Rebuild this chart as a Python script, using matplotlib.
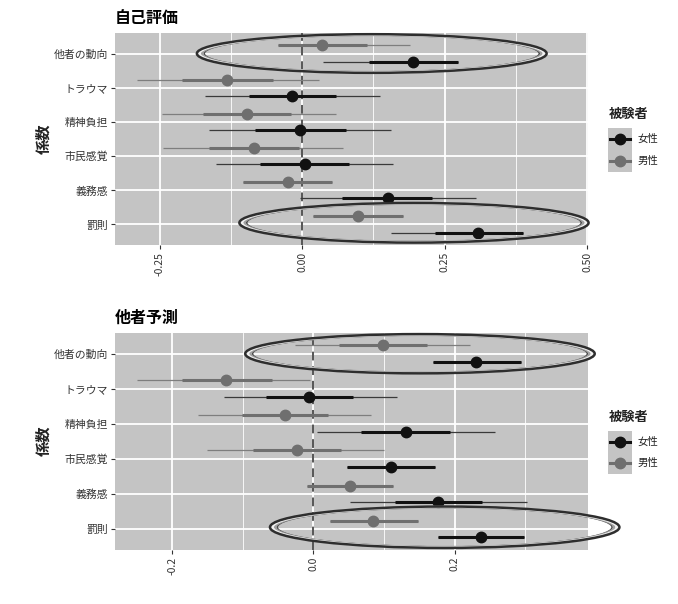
import matplotlib
matplotlib.use("Agg")
import matplotlib.pyplot as plt
from matplotlib.patches import Ellipse, Rectangle
from matplotlib.lines import Line2D

plt.rcParams['font.family'] = ['Noto Sans CJK JP', 'DejaVu Sans']

# categories, top to bottom
categories = ['他者の動向', 'トラウマ', '精神負担', '市民感覚', '義務感', '罰則']
groups = ['女性', '男性']

# 自己評価 panel
self_f_est = [0.194, -0.018, -0.004, 0.005, 0.150, 0.309]
self_f_in_lo = [0.117, -0.093, -0.083, -0.073, 0.070, 0.232]
self_f_in_hi = [0.273, 0.060, 0.076, 0.082, 0.228, 0.387]
self_f_out_lo = [0.037, -0.170, -0.163, -0.151, -0.004, 0.155]
self_f_out_hi = [0.273, 0.136, 0.155, 0.159, 0.305, 0.387]

self_m_est = [0.035, -0.131, -0.096, -0.085, -0.025, 0.098]
self_m_in_lo = [-0.043, -0.210, -0.173, -0.163, -0.103, 0.019]
self_m_in_hi = [0.113, -0.051, -0.019, -0.005, 0.053, 0.176]
self_m_out_lo = [-0.043, -0.290, -0.246, -0.243, -0.103, 0.019]
self_m_out_hi = [0.189, 0.030, 0.060, 0.072, 0.053, 0.176]

# 他者予測 panel
oth_f_est = [0.231, -0.006, 0.131, 0.110, 0.177, 0.237]
oth_f_in_lo = [0.170, -0.067, 0.068, 0.048, 0.115, 0.176]
oth_f_in_hi = [0.294, 0.056, 0.193, 0.172, 0.239, 0.298]
oth_f_out_lo = [0.170, -0.127, 0.005, 0.048, 0.052, 0.176]
oth_f_out_hi = [0.294, 0.118, 0.257, 0.172, 0.302, 0.298]

oth_m_est = [0.099, -0.124, -0.040, -0.023, 0.052, 0.085]
oth_m_in_lo = [0.037, -0.186, -0.101, -0.085, -0.009, 0.023]
oth_m_in_hi = [0.161, -0.059, 0.021, 0.039, 0.113, 0.148]
oth_m_out_lo = [-0.026, -0.250, -0.164, -0.151, -0.009, 0.023]
oth_m_out_hi = [0.222, -0.005, 0.081, 0.100, 0.113, 0.148]

self_ticks = [-0.25, 0.0, 0.25, 0.50]
self_ticklabels = ['-0.25', '0.00', '0.25', '0.50']
oth_ticks = [-0.2, 0.0, 0.2]
oth_ticklabels = ['-0.2', '0.0', '0.2']

W, H = 678, 604
PANEL_BG = '#c4c4c4'
COL_F = '#111111'
COL_M = '#6f6f6f'
THIN_F = '#3a3a3a'
THIN_M = '#7e7e7e'


def fx(px):
    return px / W


def fy(py):
    return 1 - py / H


def draw_series(ax, ypos, est, in_lo, in_hi, out_lo, out_hi, color, thin_color):
    for y, e, a, b, c, d in zip(ypos, est, in_lo, in_hi, out_lo, out_hi):
        ax.plot([c, d], [y, y], color=thin_color, lw=0.9, solid_capstyle='butt', zorder=3)
        ax.plot([a, b], [y, y], color=color, lw=2.2, solid_capstyle='butt', zorder=4)
        ax.plot([e], [y], 'o', color=color, ms=7.5, zorder=5)


def draw_ring(ax, cx, cy, w, h):
    # a dark ring with a lighter crescent at both tips
    layers = [(0.042, 0.95, '#4a4a4a', 1.1),
              (0.030, 0.962, '#a0a0a0', 1.8),
              (0.015, 0.98, '#f2f2f2', 1.8),
              (0.0, 1.0, '#2e2e2e', 1.8)]
    for dw, sh, col, lw in layers:
        e = Ellipse((cx, cy), w * (1 - dw), h * sh, fill=False,
                    edgecolor=col, lw=lw, zorder=6, clip_on=False)
        ax.add_patch(e)


def setup_panel(ax, xlim, ticks, ticklabels, minor):
    ypos = [6 - i for i in range(len(categories))]
    ax.set_facecolor(PANEL_BG)
    for s in ax.spines.values():
        s.set_visible(False)
    ax.set_xlim(*xlim)
    ax.set_ylim(0.4, 6.6)
    ax.set_xticks(ticks)
    ax.set_xticklabels(ticklabels, rotation=90, fontsize=7.5, color='#333333')
    ax.set_xticks(minor, minor=True)
    ax.tick_params(axis='x', which='minor', length=0)
    ax.set_yticks(ypos)
    ax.set_yticklabels(categories, fontsize=7.8, color='#333333')
    ax.tick_params(axis='both', which='major', length=3, width=0.8, color='#333333', pad=2)
    ax.grid(True, which='major', color='white', lw=1.3, zorder=0)
    ax.grid(True, which='minor', axis='x', color='white', lw=0.6, zorder=0)
    ax.set_axisbelow(True)
    ax.axvline(0, color='#555555', lw=1.4, dashes=(4.5, 3), zorder=2)
    return ypos


def draw_legend(fig, title_y, row_ys):
    fig.text(fx(609), fy(title_y), '被験者', fontsize=9.5, fontweight='bold',
             va='center', ha='left', color='#222222')
    fig.patches.append(Rectangle((fx(608), fy(row_ys[1] + 11)), fx(24), (row_ys[1] - row_ys[0] + 22) / H,
                                 transform=fig.transFigure, facecolor=PANEL_BG, edgecolor='none'))
    for g, col, y in zip(groups, [COL_F, COL_M], row_ys):
        fig.lines.append(Line2D([fx(610), fx(630)], [fy(y), fy(y)], color=col, lw=2.2,
                                transform=fig.transFigure))
        fig.lines.append(Line2D([fx(620)], [fy(y)], marker='o', ms=7.5, color=col,
                                transform=fig.transFigure))
        fig.text(fx(638), fy(y), g, fontsize=7.5, va='center', ha='left', color='#222222')


fig = plt.figure(figsize=(W / 100, H / 100), dpi=100)
fig.patch.set_facecolor('white')

# top panel: 自己評価
ax1 = fig.add_axes([fx(115), fy(245), fx(588) - fx(115), (245 - 33) / H])
ypos = setup_panel(ax1, (-0.328, 0.501), self_ticks, self_ticklabels, [-0.125, 0.125, 0.375])
draw_series(ax1, [y + 0.24 for y in ypos], self_m_est, self_m_in_lo, self_m_in_hi,
            self_m_out_lo, self_m_out_hi, COL_M, THIN_M)
draw_series(ax1, [y - 0.24 for y in ypos], self_f_est, self_f_in_lo, self_f_in_hi,
            self_f_out_lo, self_f_out_hi, COL_F, THIN_F)
draw_ring(ax1, 0.122, 6.0, 0.613, 1.13)
draw_ring(ax1, 0.196, 1.05, 0.612, 1.16)
fig.text(fx(115), fy(18), '自己評価', fontsize=11.5, fontweight='bold', va='center', ha='left')
fig.text(fx(43), fy(139), '係数', fontsize=11, fontweight='bold', rotation=90,
         va='center', ha='center', color='#222222')
draw_legend(fig, 114, [139, 161])

# bottom panel: 他者予測
ax2 = fig.add_axes([fx(115), fy(550), fx(588) - fx(115), (550 - 332.7) / H])
ypos = setup_panel(ax2, (-0.281, 0.389), oth_ticks, oth_ticklabels, [-0.1, 0.1, 0.3])
draw_series(ax2, [y + 0.24 for y in ypos], oth_m_est, oth_m_in_lo, oth_m_in_hi,
            oth_m_out_lo, oth_m_out_hi, COL_M, THIN_M)
draw_series(ax2, [y - 0.24 for y in ypos], oth_f_est, oth_f_in_lo, oth_f_in_hi,
            oth_f_out_lo, oth_f_out_hi, COL_F, THIN_F)
draw_ring(ax2, 0.151, 6.0, 0.495, 1.12)
draw_ring(ax2, 0.186, 1.05, 0.495, 1.18)
fig.text(fx(115), fy(318), '他者予測', fontsize=11.5, fontweight='bold', va='center', ha='left')
fig.text(fx(43), fy(441), '係数', fontsize=11, fontweight='bold', rotation=90,
         va='center', ha='center', color='#222222')
draw_legend(fig, 417, [441.7, 463.3])

fig.savefig('out.png', dpi=100)
